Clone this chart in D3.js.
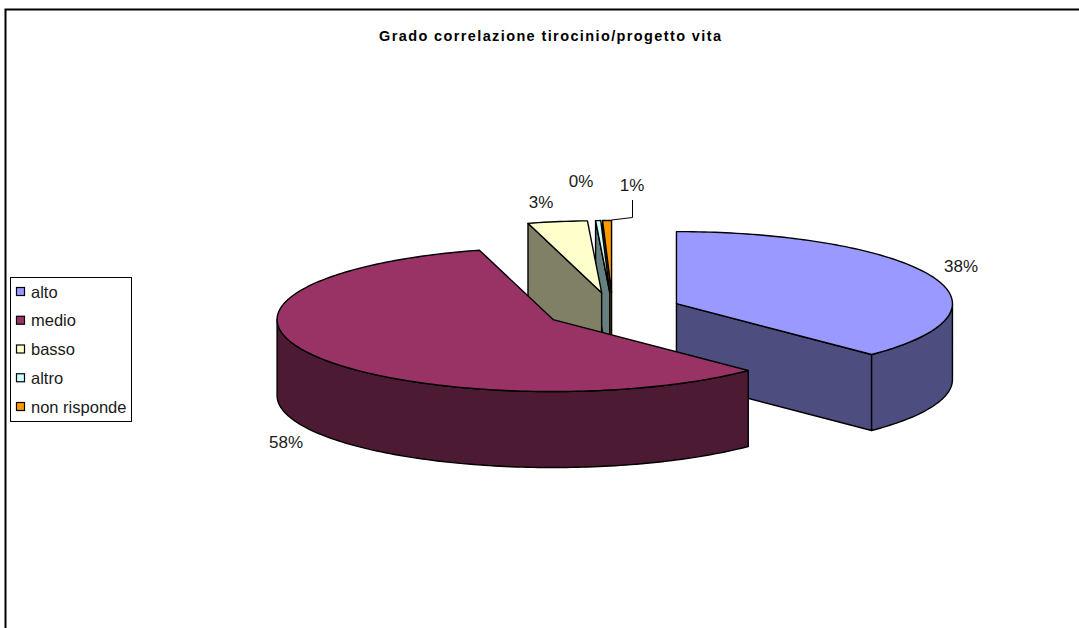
<!DOCTYPE html>
<html>
<head>
<meta charset="utf-8">
<script src="https://cdn.jsdelivr.net/npm/d3@7"></script>
<style>
html,body{margin:0;padding:0;background:#fff;overflow:hidden}
svg{display:block}
text{font-family:"Liberation Sans",Arial,sans-serif;fill:#1a1a1a}
</style>
</head>
<body>
<svg id="chart" width="1079" height="628"></svg>
<script>
const titleText = "Grado correlazione tirocinio/progetto vita";
const categories = ["alto", "medio", "basso", "altro", "non risponde"];
const values = [37.5, 58.2, 3.48, 0.3, 0.52];
const topColors = ["#9999ff", "#993366", "#ffffcc", "#ccffff", "#ff9900"];
const sideColors = ["#4d4d80", "#4d1a33", "#808066", "#668080", "#804d00"];

const W = 1079, H = 628;
const cx = 612.7, cy = 310.5, rx = 276, ry = 72, depth = 76, explode = 69;
const tilt = ry / rx;

const svg = d3.select("#chart").attr("viewBox", [0, 0, W, H]);

// frame
svg.append("path").attr("d", `M5.5,${H}V9.5H${W}`).attr("fill", "none")
  .attr("stroke", "#000").attr("stroke-width", 2);

svg.append("text").attr("x", 550).attr("y", 41).attr("text-anchor", "middle")
  .attr("font-size", 14.5).attr("font-weight", "bold").attr("textLength", 342)
  .style("fill", "#000").text(titleText);

const pieGen = d3.pie().sort(null).startAngle(0).endAngle(2 * Math.PI);
const total = d3.sum(values);
const slices = pieGen(values).map((d, i) => {
  const mid = (d.startAngle + d.endAngle) / 2;
  return {
    ...d, i,
    ox: cx + explode * Math.sin(mid),
    oy: cy - explode * tilt * Math.cos(mid)
  };
});
const px = (s, a) => [s.ox + rx * Math.sin(a), s.oy - ry * Math.cos(a)];
const line = d3.line();
const rim = (s, a0, a1) => {
  const n = Math.max(2, Math.ceil(Math.abs(a1 - a0) / 0.02));
  return d3.range(n + 1).map(k => px(s, a0 + (a1 - a0) * k / n));
};
const drop = p => [p[0], p[1] + depth];
const stroke = sel => sel.attr("stroke", "#000").attr("stroke-width", 1.4).attr("stroke-linejoin", "round");

const drawSlice = s => {
  const g = svg.append("g");
  const side = sideColors[s.i];
  const apex = [s.ox, s.oy];
  const a0 = s.startAngle, a1 = s.endAngle;
  // radial wall on the start edge, visible for slices starting on the back-left
  if (a0 > Math.PI) {
    const p = px(s, a0);
    g.append("path").attr("d", line([p, apex, drop(apex), drop(p)]) + "Z")
      .attr("fill", side).call(stroke);
  }
  // radial wall on the end edge, visible for slices ending on the front-right
  if (a1 < Math.PI) {
    const p = px(s, a1);
    g.append("path").attr("d", line([apex, p, drop(p), drop(apex)]) + "Z")
      .attr("fill", side).call(stroke);
  }
  // outer curved wall, front half of the ellipse only
  const f0 = Math.max(a0, Math.PI / 2), f1 = Math.min(a1, 3 * Math.PI / 2);
  if (f1 > f0) {
    const r = rim(s, f0, f1);
    g.append("path").attr("d", line([...r, ...r.map(drop).reverse()]) + "Z")
      .attr("fill", side).call(stroke);
  }
  // top face
  g.append("path").attr("d", line([apex, ...rim(s, a0, a1)]) + "Z")
    .attr("fill", topColors[s.i]).call(stroke);
};
[4, 3, 2, 0, 1].forEach(i => drawSlice(slices[i]));

// data labels
const pctLabels = values.map(v => Math.round(100 * v / total) + "%");
const labelAnchors = [[961, 272], [286, 448], [541, 208], [581, 187], [632, 191]];
svg.append("g").selectAll("text").data(pctLabels).join("text")
  .attr("x", (d, i) => labelAnchors[i][0]).attr("y", (d, i) => labelAnchors[i][1])
  .attr("text-anchor", "middle").attr("font-size", 17).text(d => d);

// leader line for the last slice
svg.append("path").attr("d", line([[632.5, 200], [632.5, 217.5], [611.5, 220]]))
  .attr("fill", "none").attr("stroke", "#000").attr("stroke-width", 1);

// legend
const legend = svg.append("g");
legend.append("rect").attr("x", 10.5).attr("y", 277.5).attr("width", 121).attr("height", 144)
  .attr("fill", "#fff").attr("stroke", "#000");
const rowY = d3.scalePoint().domain(categories).range([292, 407]);
const rows = legend.selectAll("g").data(categories).join("g")
  .attr("transform", d => `translate(0,${rowY(d)})`);
rows.append("rect").attr("x", 16.5).attr("y", -4.5).attr("width", 8).attr("height", 8)
  .attr("fill", (d, i) => topColors[i]).attr("stroke", "#000").attr("stroke-width", 1.2);
rows.append("text").attr("x", 31).attr("y", 5.5).attr("font-size", 16.5).text(d => d);
</script>
</body>
</html>
